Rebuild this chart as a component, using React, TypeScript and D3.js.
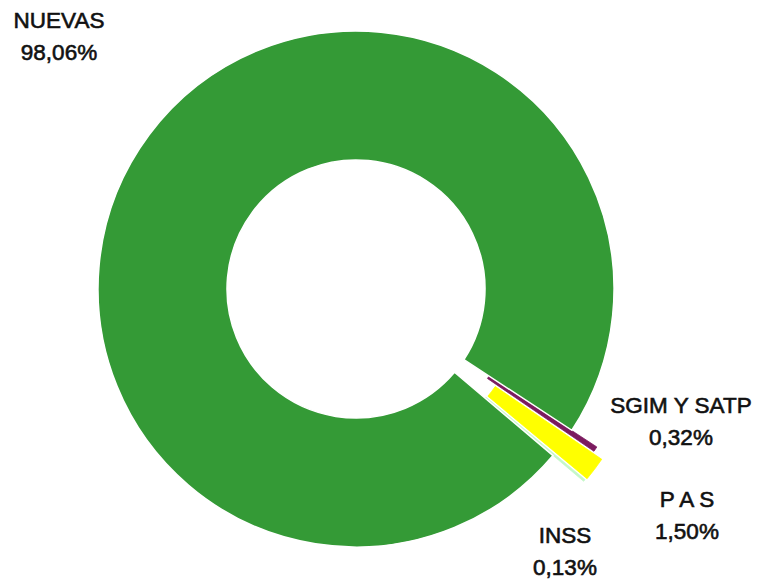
import * as d3 from "d3";
import { useEffect, useRef } from "react";

// data, in the order the slices run clockwise
const categories = ["SGIM Y SATP", "P A S", "INSS", "NUEVAS"];
const values = [0.32, 1.5, 0.13, 98.06];
const valueLabels = ["0,32%", "1,50%", "0,13%", "98,06%"];

const colors = ["#7b1b5f", "#ffff00", "#c4f7c8", "#349a36"];
// how far each slice is pulled out of the ring (px)
const explode = [30, 41, 40, 0];
// label anchor points (centre x, baseline of first line)
const labelPos: [number, number][] = [
  [681, 413],
  [687, 507],
  [565, 543],
  [59, 28],
];

const W = 758;
const H = 582;

export default function App() {
  const ref = useRef<SVGSVGElement | null>(null);

  useEffect(() => {
    const svg = d3.select(ref.current);
    svg.selectAll("*").remove();

    const cx = 356;
    const cy = 289;
    const outer = 258;
    const inner = 129;

    const pie = d3
      .pie<number>()
      .sort(null)
      .value((d) => d)
      .startAngle((123.2 * Math.PI) / 180)
      .endAngle((123.2 * Math.PI) / 180 + 2 * Math.PI);

    const arcs = pie(values);
    const arc = d3.arc<d3.PieArcDatum<number>>().innerRadius(inner).outerRadius(outer);

    const g = svg.append("g").attr("transform", `translate(${cx},${cy})`);

    g.selectAll("path")
      .data(arcs)
      .join("path")
      .attr("d", arc)
      .attr("fill", (_, i) => colors[i])
      .attr("stroke", (_, i) => (i === 3 ? "#fff" : colors[i]))
      .attr("stroke-width", (_, i) => (i === 3 ? 1.5 : 0.8))
      .attr("transform", (d, i) => {
        const a = (d.startAngle + d.endAngle) / 2;
        const off = explode[i];
        return `translate(${off * Math.sin(a)},${-off * Math.cos(a)})`;
      });

    // labels
    const lab = svg
      .append("g")
      .style("font-family", "'Liberation Sans', Arial, sans-serif")
      .style("font-size", "22.5px")
      .attr("fill", "#111")
      .attr("stroke", "#111")
      .attr("stroke-width", 0.6)
      .attr("text-anchor", "middle");

    categories.forEach((c, i) => {
      const [x, y] = labelPos[i];
      lab.append("text").attr("x", x).attr("y", y).text(c);
      lab.append("text").attr("x", x).attr("y", y + 32).text(valueLabels[i]);
    });
  }, []);

  return (
    <svg
      ref={ref}
      width={W}
      height={H}
      style={{ position: "absolute", left: 0, top: 0, display: "block", background: "#fff" }}
    />
  );
}
